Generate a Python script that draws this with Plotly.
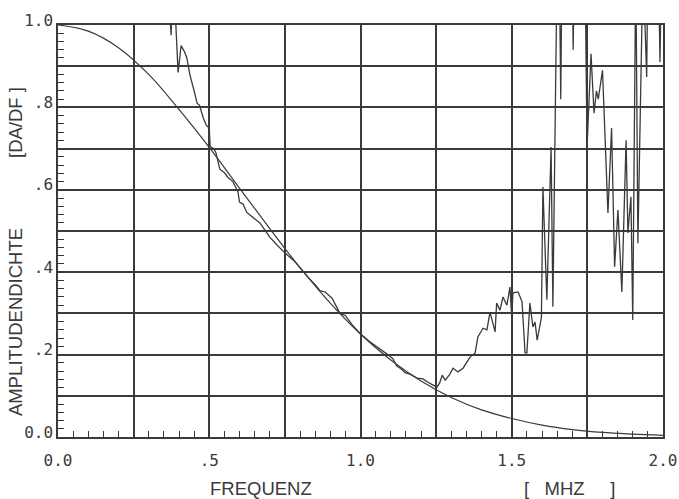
import plotly.graph_objects as go

# Smooth reference curve
smooth_x = [0.0, 0.1, 0.2, 0.3, 0.4, 0.5, 0.6, 0.7, 0.8, 0.9, 1.0,
            1.1, 1.2, 1.3, 1.4, 1.5, 1.6, 1.7, 1.8, 1.9, 2.0]
smooth_y = [1.0, 0.985, 0.945, 0.88, 0.795, 0.703, 0.604, 0.506, 0.411, 0.325, 0.25,
            0.187, 0.136, 0.096, 0.066, 0.045, 0.029, 0.018, 0.011, 0.007, 0.004]

# Measured (noisy) curve, values above 1.0 run off the top of the plot
meas_x = [0.36, 0.374, 0.38, 0.388, 0.397, 0.407, 0.418, 0.426, 0.436, 0.45,
          0.46, 0.468, 0.48, 0.49, 0.5, 0.503, 0.515, 0.522, 0.535, 0.552,
          0.562, 0.578, 0.595, 0.60, 0.612, 0.624, 0.645, 0.668, 0.684, 0.70,
          0.724, 0.75, 0.78, 0.80, 0.83, 0.85, 0.866, 0.883, 0.906, 0.932,
          0.95, 0.975, 1.0, 1.03, 1.05, 1.07, 1.09, 1.107, 1.12, 1.135,
          1.147, 1.165, 1.174, 1.187, 1.207, 1.22, 1.24, 1.253, 1.262, 1.27,
          1.28, 1.295, 1.306, 1.322, 1.339, 1.35, 1.362, 1.379, 1.388, 1.405,
          1.418, 1.428, 1.438, 1.445, 1.45, 1.461, 1.471, 1.484, 1.494, 1.50,
          1.504, 1.521, 1.534, 1.544, 1.55, 1.56, 1.57, 1.577, 1.584, 1.598,
          1.603, 1.616, 1.63, 1.636, 1.65, 1.658, 1.662, 1.666, 1.70, 1.703,
          1.707, 1.742, 1.749, 1.762, 1.772, 1.78, 1.786, 1.798, 1.80, 1.818,
          1.83, 1.84, 1.851, 1.864, 1.878, 1.884, 1.894, 1.90, 1.91, 1.917,
          1.934, 1.946, 1.95, 1.985, 1.99, 1.995]
meas_y = [1.15, 0.975, 1.15, 1.02, 0.885, 0.95, 0.935, 0.92, 0.879, 0.84,
          0.81, 0.805, 0.775, 0.757, 0.75, 0.705, 0.70, 0.69, 0.65, 0.64,
          0.63, 0.62, 0.595, 0.57, 0.565, 0.545, 0.532, 0.519, 0.502, 0.485,
          0.466, 0.447, 0.428, 0.41, 0.385, 0.37, 0.355, 0.352, 0.337, 0.30,
          0.295, 0.27, 0.25, 0.232, 0.222, 0.211, 0.20, 0.19, 0.172, 0.165,
          0.156, 0.152, 0.149, 0.143, 0.141, 0.134, 0.126, 0.121, 0.132, 0.15,
          0.138, 0.152, 0.167, 0.158, 0.167, 0.18, 0.194, 0.204, 0.243, 0.264,
          0.26, 0.303, 0.272, 0.255, 0.325, 0.308, 0.34, 0.32, 0.364, 0.29,
          0.35, 0.352, 0.328, 0.204, 0.204, 0.325, 0.267, 0.279, 0.235, 0.29,
          0.607, 0.333, 0.704, 0.316, 1.15, 1.1, 0.82, 1.15, 1.15, 0.94,
          1.15, 1.15, 0.704, 0.93, 0.786, 0.84, 0.82, 0.886, 0.89, 0.544,
          0.75, 0.413, 0.551, 0.352, 0.72, 0.495, 0.583, 0.284, 1.15, 0.47,
          1.15, 0.874, 1.15, 1.15, 0.91, 1.15]

x_tickvals = [0.0, 0.25, 0.5, 0.75, 1.0, 1.25, 1.5, 1.75, 2.0]
x_ticktext = ["0.0", "", ".5", "", "1.0", "", "1.5", "", "2.0"]
y_tickvals = [0.0, 0.1, 0.2, 0.3, 0.4, 0.5, 0.6, 0.7, 0.8, 0.9, 1.0]
y_ticktext = ["0.0", "", ".2", "", ".4", "", ".6", "", ".8", "", "1.0"]

ink = "#3a3a3a"
tick_font = dict(family="DejaVu Sans Mono", size=16, color=ink)
title_font = dict(family="Liberation Sans Narrow, Arial Narrow, Liberation Sans", size=18.5, color=ink)

# plot area in page pixels
PL, PR, PT, PB = 58, 663, 25, 437
PW, PH = PR - PL, PB - PT
NB = "\u00a0"

fig = go.Figure()
fig.add_trace(go.Scatter(x=smooth_x, y=smooth_y, mode="lines",
                         line=dict(color=ink, width=1.2, shape="spline"),
                         showlegend=False, hoverinfo="skip"))
fig.add_trace(go.Scatter(x=meas_x, y=meas_y, mode="lines",
                         line=dict(color=ink, width=1.3),
                         showlegend=False, hoverinfo="skip"))

fig.update_xaxes(range=[0, 2.0], tickvals=x_tickvals, ticktext=x_ticktext,
                 showgrid=True, gridcolor=ink, gridwidth=1.5,
                 showline=True, linecolor=ink, linewidth=1.5, mirror=True,
                 ticks="inside", ticklen=6, tickcolor=ink, tickwidth=1,
                 tickfont=tick_font, zeroline=False, automargin=False,
                 minor=dict(dtick=0.05, tick0=0, ticks="inside", ticklen=6,
                            tickcolor=ink, tickwidth=1, showgrid=False),
                 ticklabelstandoff=8)
fig.update_yaxes(range=[0, 1.0], tickvals=y_tickvals, ticktext=y_ticktext,
                 showgrid=True, gridcolor=ink, gridwidth=1.5,
                 showline=True, linecolor=ink, linewidth=1.5, mirror=True,
                 ticks="inside", ticklen=6, tickcolor=ink, tickwidth=1,
                 tickfont=tick_font, zeroline=False, automargin=False,
                 minor=dict(dtick=0.02, tick0=0, ticks="inside", ticklen=6,
                            tickcolor=ink, tickwidth=1, showgrid=False),
                 ticklabelshift=-5)

fig.add_annotation(text="FREQUENZ", xref="paper", yref="paper",
                   x=(261 - PL) / PW, y=-(488 - PB) / PH, showarrow=False,
                   font=title_font, xanchor="center", yanchor="middle")
fig.add_annotation(text="[" + NB * 3 + "MHZ" + NB * 5 + "]", xref="paper", yref="paper",
                   x=(569 - PL) / PW, y=-(488 - PB) / PH, showarrow=False,
                   font=title_font, xanchor="center", yanchor="middle")
fig.add_annotation(text="AMPLITUDENDICHTE", xref="paper", yref="paper",
                   x=-(PL - 15) / PW, y=(PB - 322) / PH, showarrow=False,
                   textangle=-90, font=title_font, xanchor="center", yanchor="middle")
fig.add_annotation(text="[DA/DF" + NB + "]", xref="paper", yref="paper",
                   x=-(PL - 15) / PW, y=(PB - 123) / PH, showarrow=False,
                   textangle=-90, font=title_font, xanchor="center", yanchor="middle")

fig.update_layout(width=679, height=499,
                  margin=dict(l=PL, r=679 - PR, t=PT, b=499 - PB, autoexpand=False),
                  plot_bgcolor="white", paper_bgcolor="white")

fig.write_html("out.html", config={"displayModeBar": False},
               post_script="document.body.style.margin='0px';document.body.style.overflow='hidden';")
